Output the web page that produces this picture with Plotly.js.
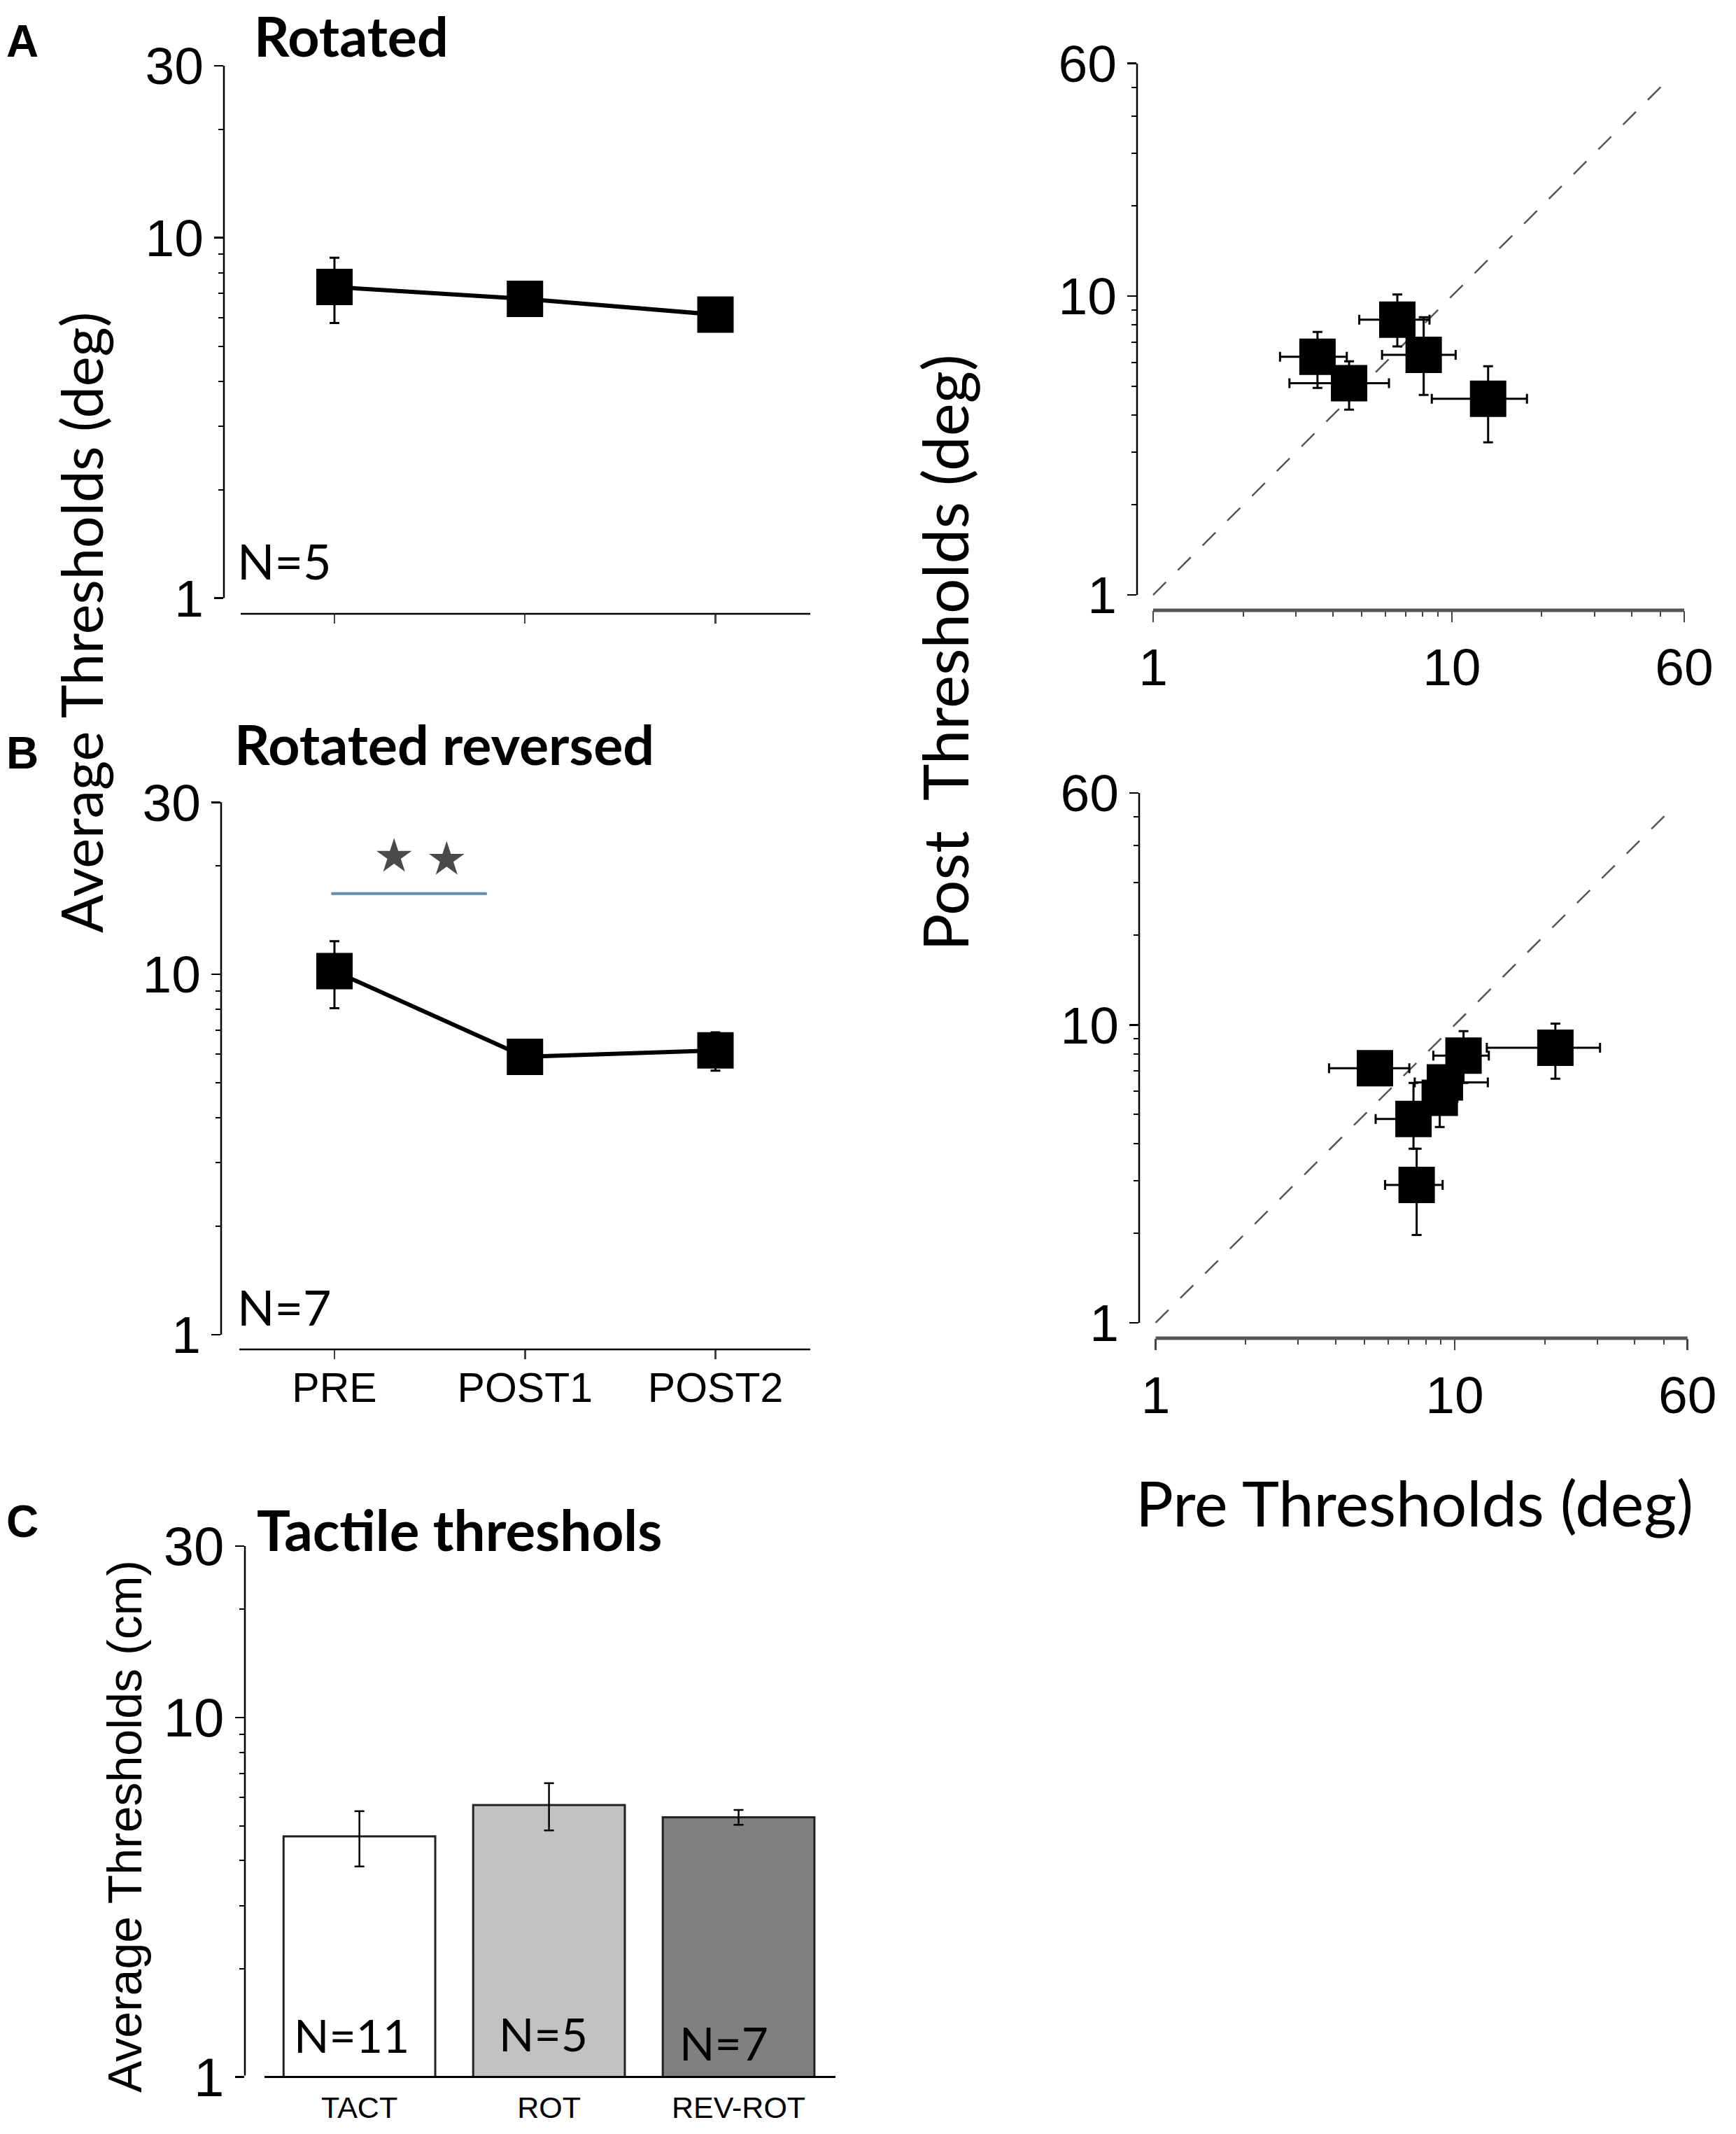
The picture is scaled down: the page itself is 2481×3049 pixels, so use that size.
<!DOCTYPE html>
<html>
<head>
<meta charset="utf-8">
<script src="https://cdn.plot.ly/plotly-3.0.1.min.js"></script>
<style>html,body{margin:0;padding:0;background:#fff;}</style>
</head>
<body>
<div id="chart" style="width:2481px;height:3049px;"></div>
<script>
// ---------- DATA ----------
const sessions = ["PRE", "POST1", "POST2"];
const rotMean = [7.3, 6.77, 6.12];
const rotErr = [1.5, 0.6, 0.5];
const revMean = [10.2, 5.9, 6.15];
const revErr = [2.15, 0.5, 0.75];

const rotPre = [3.55, 4.53, 6.57, 8.05, 13.23];
const rotPost = [6.26, 5.11, 8.34, 6.36, 4.53];
const rotPreErrPlus = [0.90, 1.63, 1.85, 2.25, 4.62];
const rotPreErrMinus = [0.89, 1.67, 1.67, 2.21, 4.66];
const rotPostErrPlus = [1.32, 0.94, 1.78, 2.14, 1.29];
const rotPostErrMinus = [1.33, 0.94, 1.56, 1.69, 1.29];

const revPre = [5.41, 10.7, 21.7, 9.27, 8.91, 7.28, 7.46];
const revPost = [7.15, 7.88, 8.38, 6.41, 5.69, 4.83, 2.90];
const revPreErrPlus = [1.64, 2.3, 8.9, 3.63, 1.3, 1.0, 1.65];
const revPreErrMinus = [1.61, 2.22, 8.9, 1.92, 1.0, 1.84, 1.61];
const revPostErrPlus = [0.3, 1.64, 1.72, 0.6, 0.6, 1.55, 0.94];
const revPostErrMinus = [0.3, 1.5, 1.79, 0.6, 1.15, 0.99, 0.93];

const tactCats = ["TACT", "ROT", "REV-ROT"];
const tactMean = [4.67, 5.71, 5.28];
const tactErr = [0.82, 0.86, 0.25];
const tactN = ["N=11", "N=5", "N=7"];

const identityLine = [1, 52];
const sigStarX = [0.313, 0.589];
const sigStarY = [21.2, 20.8];
const sigBarY = 16.75;

// ---------- HELPERS ----------
const W = 2481, H = 3049;
const fx = x => x / W;
const fy = y => 1 - y / H;
const L10 = Math.log10;

const tickFont = {family: "Liberation Sans, Arial, sans-serif", size: 75, color: "#000"};
const catFont = {family: "Liberation Sans, Arial, sans-serif", size: 59, color: "#000"};
const minorLeft = [2,3,4,5,6,7,8,9,20];
const minorScat = [2,3,4,5,6,7,8,9,20,30,40,50];

function logY(domain, range, vals, minorVals, font) {
  return {
    type: "log", domain: domain, range: range, showline: false, showgrid: false, zeroline: false,
    tickmode: "array", tickvals: vals, ticktext: vals.map(String),
    ticks: "outside", ticklen: 13, tickwidth: 2.5, tickcolor: "#000",
    tickfont: font || tickFont,
    minor: {tickmode: "array", tickvals: minorVals, ticks: "outside", ticklen: 7, tickwidth: 2, tickcolor: "#000", showgrid: false},
    fixedrange: true
  };
}

const errStyle = {color: "#000", thickness: 3, width: 7};

const traces = [];
// Panel A left
traces.push({
  x: [0,1,2], y: rotMean, xaxis: "x", yaxis: "y", type: "scatter", mode: "lines+markers",
  line: {color: "#000", width: 6},
  marker: {symbol: "square", size: 52, color: "#000"},
  error_y: Object.assign({type: "data", array: rotErr, visible: true}, errStyle)
});
// Panel B left
traces.push({
  x: [0,1,2], y: revMean, xaxis: "x2", yaxis: "y2", type: "scatter", mode: "lines+markers",
  line: {color: "#000", width: 6},
  marker: {symbol: "square", size: 52, color: "#000"},
  error_y: Object.assign({type: "data", array: revErr, visible: true}, errStyle)
});
traces.push({
  x: sigStarX, y: sigStarY, xaxis: "x2", yaxis: "y2", type: "scatter", mode: "markers",
  marker: {symbol: "star", size: 38, color: "#4a4a4a", line: {width: 0}}
});
// Panel A right
traces.push({
  x: identityLine, y: identityLine, xaxis: "x3", yaxis: "y3", type: "scatter", mode: "lines",
  line: {color: "#555", width: 2.5, dash: "26px,24px"}
});
traces.push({
  x: rotPre, y: rotPost, xaxis: "x3", yaxis: "y3", type: "scatter", mode: "markers",
  marker: {symbol: "square", size: 52, color: "#000"},
  error_x: Object.assign({type: "data", symmetric: false, array: rotPreErrPlus, arrayminus: rotPreErrMinus, visible: true}, errStyle),
  error_y: Object.assign({type: "data", symmetric: false, array: rotPostErrPlus, arrayminus: rotPostErrMinus, visible: true}, errStyle)
});
// Panel B right
traces.push({
  x: identityLine, y: identityLine, xaxis: "x4", yaxis: "y4", type: "scatter", mode: "lines",
  line: {color: "#555", width: 2.5, dash: "26px,24px"}
});
traces.push({
  x: revPre, y: revPost, xaxis: "x4", yaxis: "y4", type: "scatter", mode: "markers",
  marker: {symbol: "square", size: 52, color: "#000"},
  error_x: Object.assign({type: "data", symmetric: false, array: revPreErrPlus, arrayminus: revPreErrMinus, visible: true}, errStyle),
  error_y: Object.assign({type: "data", symmetric: false, array: revPostErrPlus, arrayminus: revPostErrMinus, visible: true}, errStyle)
});
// Panel C
traces.push({
  x: [0,1,2], y: tactMean, xaxis: "x5", yaxis: "y5", type: "bar", width: 0.8,
  marker: {color: ["#ffffff", "#c2c2c2", "#808080"], line: {color: "#222", width: 3}},
  error_y: {type: "data", array: tactErr, visible: true, color: "#000", thickness: 2.5, width: 7}
});

// ---------- LAYOUT ----------
const layout = {
  width: W, height: H, margin: {l: 0, r: 0, t: 0, b: 0},
  paper_bgcolor: "#fff", plot_bgcolor: "rgba(0,0,0,0)", showlegend: false,
  xaxis: {domain: [fx(320), fx(1158)], range: [-0.5803, 2.4977], anchor: "y",
    tickmode: "array", tickvals: [0,1,2], showticklabels: false, ticks: "outside", ticklen: 13, tickwidth: 2.5,
    showline: false, showgrid: false, zeroline: false, fixedrange: true},
  yaxis: Object.assign(logY([fy(877), fy(94)], [-0.0435, L10(30)], [1,10,30], minorLeft), {anchor: "x"}),
  xaxis2: {domain: [fx(316), fx(1158)], range: [-0.595, 2.4977], anchor: "y2",
    tickmode: "array", tickvals: [0,1,2], ticktext: sessions, tickfont: catFont, ticks: "outside", ticklen: 13, tickwidth: 2.5,
    ticklabelstandoff: -10,
    showline: false, showgrid: false, zeroline: false, fixedrange: true},
  yaxis2: Object.assign(logY([fy(1928), fy(1146.3)], [-0.0408, L10(30)], [1,10,30], minorLeft), {anchor: "x2"}),
  xaxis3: Object.assign(logY([fx(1625), fx(2407)], [-0.0539, L10(60)], [1,10,60], minorScat),
    {anchor: "y3", ticklen: 16, tickcolor: "#444", minor: {tickmode: "array", tickvals: minorScat, ticks: "outside", ticklen: 8, tickwidth: 2, tickcolor: "#444"}}),
  yaxis3: Object.assign(logY([fy(872), fy(90.7)], [-0.0515, L10(60)], [1,10,60], minorScat), {anchor: "x3"}),
  xaxis4: Object.assign(logY([fx(1628), fx(2411.7)], [-0.055, L10(60)], [1,10,60], minorScat),
    {anchor: "y4", ticklen: 16, tickcolor: "#444", minor: {tickmode: "array", tickvals: minorScat, ticks: "outside", ticklen: 8, tickwidth: 2, tickcolor: "#444"}}),
  yaxis4: Object.assign(logY([fy(1912), fy(1133)], [-0.0518, L10(60)], [1,10,60], minorScat), {anchor: "x4"}),
  xaxis5: {domain: [fx(350), fx(1194)], range: [-0.604, 2.511], anchor: "y5",
    tickmode: "array", tickvals: [0,1,2], ticktext: tactCats, ticks: "", ticklabelstandoff: 14,
    tickfont: {family: "Liberation Sans, Arial, sans-serif", size: 43, color: "#000"},
    showline: false, showgrid: false, zeroline: false, fixedrange: true},
  yaxis5: Object.assign(logY([fy(2967.5), fy(2209)], [0, L10(30)], [1,10,30], minorLeft,
    {family: "Liberation Sans, Arial, sans-serif", size: 78, color: "#000"}), {anchor: "x5"}),
  shapes: [],
  annotations: []
};

function line(x0, y0, x1, y1, color, width) {
  layout.shapes.push({type: "line", xref: "paper", yref: "paper", x0: fx(x0), y0: fy(y0), x1: fx(x1), y1: fy(y1),
    line: {color: color, width: width}});
}
// axis lines
line(320, 94, 320, 854.6, "#000", 2.5);
line(344, 877, 1158, 877, "#000", 2.5);
line(316, 1146.3, 316, 1907, "#000", 2.5);
line(342, 1928, 1158, 1928, "#000", 2.5);
line(1625, 90.7, 1625, 850, "#000", 2.5);
line(1648, 872, 2407, 872, "#555", 5);
line(1628, 1133, 1628, 1890, "#000", 2.5);
line(1651.5, 1912, 2411.7, 1912, "#555", 5);
line(350, 2209, 350, 2965.5, "#000", 2.5);
line(378, 2967.5, 1194, 2967.5, "#000", 3);
// significance bar
layout.shapes.push({type: "line", xref: "x2", yref: "y2", x0: -0.017, x1: 0.80, y0: sigBarY, y1: sigBarY,
  line: {color: "#5f8fb5", width: 4}});

function ann(text, x, y, opts) {
  layout.annotations.push(Object.assign({
    text: text, xref: "paper", yref: "paper", x: fx(x), y: fy(y), showarrow: false,
    xanchor: "left", yanchor: "middle", borderpad: 0
  }, opts));
}
const lato = (s, c) => ({family: "Lato, Carlito, Calibri, sans-serif", size: s, color: c || "#000"});
const latoB = s => ({family: "Lato, Carlito, Calibri, sans-serif", size: s, color: "#000", weight: "bold"});
const arialB = s => ({family: "Liberation Sans, Arial, sans-serif", size: s, color: "#000", weight: "bold"});

ann("<b>A</b>", 8, 59, {font: arialB(64)});
ann("<b>B</b>", 8, 1076, {font: arialB(64)});
ann("<b>C</b>", 8, 2174, {font: arialB(64)});
ann("<b>Rotated</b>", 362, 51, {font: latoB(79)});
ann("<b>Rotated reversed</b>", 334, 1063, {font: latoB(79)});
ann("<b>Tactile threshols</b>", 366, 2185, {font: latoB(80)});
ann("N=5", 338, 801, {font: lato(70)});
ann("N=7", 338, 1867, {font: lato(70)});
ann(tactN[0], 419, 2907, {font: lato(66)});
ann(tactN[1], 712, 2905, {font: lato(66)});
ann(tactN[2], 970, 2918, {font: lato(66)});
ann("Average Thresholds (deg)", 115, 890, {xanchor: "center", textangle: -90, font: lato(81)});
ann("Post\u00a0\u00a0Thresholds (deg)", 1350, 933, {xanchor: "center", textangle: -90, font: lato(89)});
ann("Pre Thresholds (deg)", 2021, 2146, {xanchor: "center", font: lato(90)});
ann("Average Thresholds (cm)", 178, 2610, {xanchor: "center", textangle: -90,
  font: {family: "Liberation Sans, Arial, sans-serif", size: 68, color: "#000"}});

Plotly.newPlot("chart", traces, layout, {staticPlot: true, displayModeBar: false});
</script>
</body>
</html>
